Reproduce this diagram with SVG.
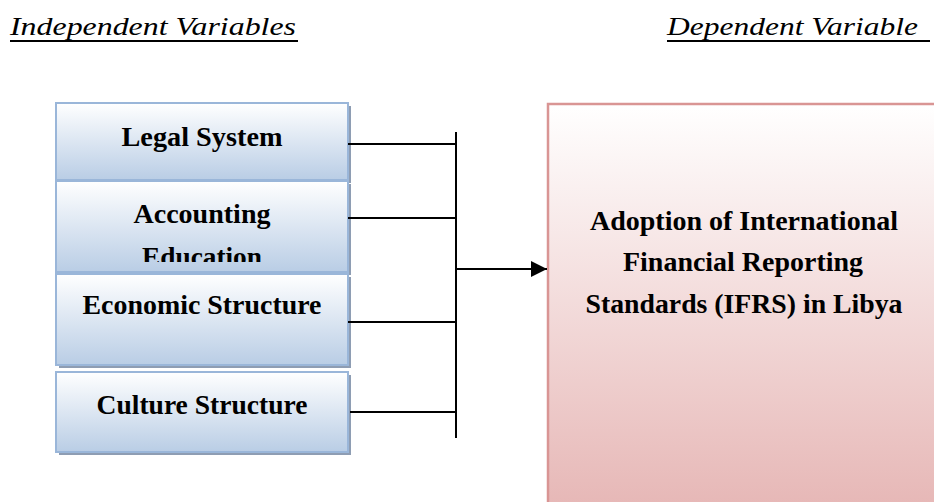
<svg xmlns="http://www.w3.org/2000/svg" width="934" height="502" viewBox="0 0 934 502">
<style>
.hdr{font-family:"Liberation Serif","Times New Roman",serif;font-style:italic;font-size:26px;fill:#000}
.lbl{font-family:"Liberation Serif","Times New Roman",serif;font-weight:bold;font-size:27px;fill:#000;text-anchor:middle}
.box{fill:url(#blueG);stroke:#9ab6d9;stroke-width:2}
.shadow{fill:#8e9db3}
.conn{stroke:#000;stroke-width:2;fill:none}
</style>
<defs>
<linearGradient id="blueG" x1="0" y1="0" x2="0" y2="1">
<stop offset="0" stop-color="#ffffff"/>
<stop offset="1" stop-color="#b9cde5"/>
</linearGradient>
<linearGradient id="pinkG" x1="0" y1="0" x2="0" y2="1">
<stop offset="0" stop-color="#ffffff"/>
<stop offset="1" stop-color="#e6b6b5"/>
</linearGradient>
<marker id="arr" markerWidth="8" markerHeight="8" refX="8" refY="4" orient="auto" markerUnits="strokeWidth">
<path d="M0,0 L8,4 L0,8 Z" fill="#000"/>
</marker>
<clipPath id="clipEdu"><rect x="56" y="181" width="292" height="81"/></clipPath>
</defs>

<g id="headers">
<text class="hdr" x="10" y="35" textLength="286" lengthAdjust="spacingAndGlyphs">Independent Variables</text>
<rect x="10" y="40" width="288" height="2" fill="#000"/>
<text class="hdr" x="667" y="35" textLength="251" lengthAdjust="spacingAndGlyphs">Dependent Variable</text>
<rect x="667" y="40" width="263" height="2" fill="#000"/>
</g>

<g id="node-legal">
<rect class="shadow" x="59" y="106" width="292" height="77"/>
<rect class="box" x="56" y="103" width="292" height="77"/>
<text class="lbl" x="202" y="146" textLength="161" lengthAdjust="spacingAndGlyphs">Legal System</text>
</g>

<g id="node-accounting">
<rect class="shadow" x="59" y="184" width="292" height="91"/>
<rect class="box" x="56" y="181" width="292" height="91"/>
<text class="lbl" x="202" y="223" textLength="137" lengthAdjust="spacingAndGlyphs">Accounting</text>
<text class="lbl" x="202" y="266" textLength="120" lengthAdjust="spacingAndGlyphs" clip-path="url(#clipEdu)">Education</text>
</g>

<g id="node-economic">
<rect class="shadow" x="59" y="277" width="292" height="91"/>
<rect class="box" x="56" y="274" width="292" height="91"/>
<text class="lbl" x="202" y="314" textLength="239" lengthAdjust="spacingAndGlyphs">Economic Structure</text>
</g>

<g id="node-culture">
<rect class="shadow" x="59" y="375" width="292" height="80"/>
<rect class="box" x="56" y="372" width="292" height="80"/>
<text class="lbl" x="202" y="414" textLength="211" lengthAdjust="spacingAndGlyphs">Culture Structure</text>
</g>

<g id="node-ifrs">
<rect x="548" y="104" width="400" height="410" fill="url(#pinkG)" stroke="#d99594" stroke-width="2.5"/>
<text class="lbl" x="744" y="230" textLength="308" lengthAdjust="spacingAndGlyphs">Adoption of International</text>
<text class="lbl" x="743" y="271" textLength="240" lengthAdjust="spacingAndGlyphs">Financial Reporting</text>
<text class="lbl" x="744" y="313" textLength="317" lengthAdjust="spacingAndGlyphs">Standards (IFRS) in Libya</text>
</g>

<g id="connectors">
<line class="conn" x1="456" y1="132" x2="456" y2="438"/>
<line class="conn" x1="348" y1="144" x2="456" y2="144"/>
<line class="conn" x1="348" y1="218" x2="456" y2="218"/>
<line class="conn" x1="348" y1="322" x2="456" y2="322"/>
<line class="conn" x1="350" y1="412" x2="456" y2="412"/>
<line class="conn" x1="456" y1="269" x2="547" y2="269" marker-end="url(#arr)"/>
</g>
</svg>
